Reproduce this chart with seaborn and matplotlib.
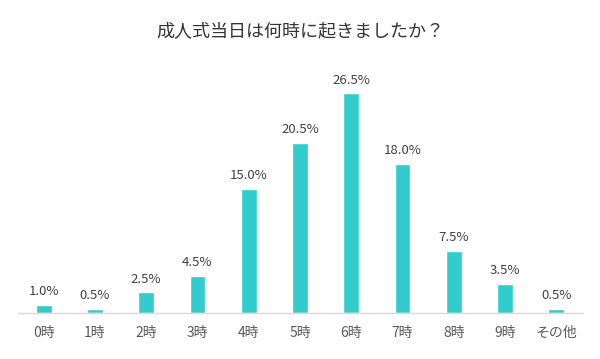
import matplotlib
matplotlib.use("Agg")
import matplotlib.pyplot as plt
import seaborn as sns
import pandas as pd

categories = ["0時", "1時", "2時", "3時", "4時", "5時", "6時", "7時", "8時", "9時", "その他"]
values = [1.0, 0.5, 2.5, 4.5, 15.0, 20.5, 26.5, 18.0, 7.5, 3.5, 0.5]
title = "成人式当日は何時に起きましたか？"

sns.set_theme(style="white")
plt.rcParams['font.family'] = ['Noto Sans CJK JP', 'DejaVu Sans']

df = pd.DataFrame({"cat": categories, "val": values})

fig = plt.figure(figsize=(6, 3.59), dpi=100)
ax = fig.add_axes([0.03, 0.128, 0.94, 0.705])
sns.barplot(data=df, x="cat", y="val", color="#33CCCC", saturation=1, width=0.31, ax=ax)
ax.set_xlim(-0.5, len(categories) - 0.5)
ax.set_ylim(0, 30.5)
for i, v in enumerate(values):
    ax.text(i, v + 0.8, f"{v:.1f}%", ha="center", va="bottom", fontsize=9.5, color="#404040")
ax.set_xlabel("")
ax.set_ylabel("")
ax.set_yticks([])
for s in ["top", "left", "right"]:
    ax.spines[s].set_visible(False)
ax.spines["bottom"].set_color("#d9d9d9")
ax.spines["bottom"].set_linewidth(1)
ax.tick_params(axis="x", length=0, pad=9, labelsize=10, labelcolor="#595959")
fig.text(0.5, 0.913, title, ha="center", va="center", fontsize=13, color="#333333")
fig.savefig("out.png", dpi=100)
